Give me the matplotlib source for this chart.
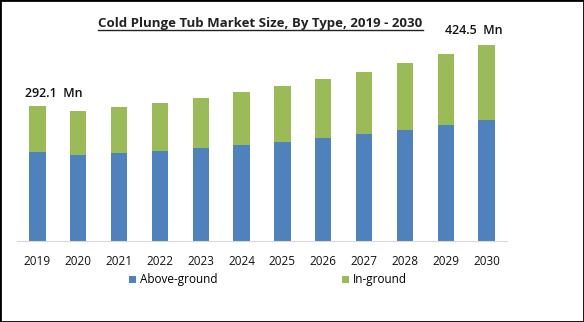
import numpy as np
import matplotlib.pyplot as plt
from matplotlib.lines import Line2D
from matplotlib.patches import Rectangle

years = ['2019', '2020', '2021', '2022', '2023', '2024', '2025', '2026', '2027', '2028', '2029', '2030']
above_ground = [192.6, 186.0, 190.4, 194.8, 201.0, 207.7, 214.0, 222.9, 231.5, 240.0, 251.0, 261.8]
in_ground = [99.5, 95.3, 99.6, 103.8, 108.4, 114.7, 121.4, 127.6, 134.2, 145.2, 153.6, 162.7]
first_label = '292.1  Mn'
last_label = '424.5  Mn'

plt.rcParams['font.family'] = ['Open Sans', 'DejaVu Sans']

fig = plt.figure(figsize=(5.84, 3.22), dpi=100)
ax = fig.add_axes([17 / 584, 81 / 322, 490 / 584, 208 / 322])

x = np.arange(len(years))
blue, green = '#4F81BD', '#9BBB59'
ax.bar(x, above_ground, width=0.4, color=blue, label='Above-ground')
ax.bar(x, in_ground, width=0.4, bottom=above_ground, color=green, label='In-ground')

ax.set_xlim(-0.5, 11.5)
ax.set_ylim(0, 450)
ax.set_yticks([])
ax.set_xticks(x)
ax.set_xticklabels(years, fontsize=8.5, color='#111111')
ax.tick_params(axis='x', length=0, pad=10)
for s in ['top', 'right', 'left']:
    ax.spines[s].set_visible(False)
ax.spines['bottom'].set_color('#D9D9D9')

totals = [a + b for a, b in zip(above_ground, in_ground)]
ax.text(-0.3, totals[0] + 27, first_label, fontsize=9, fontweight='semibold', va='center', ha='left', color='#111111')
ax.text(11.4, totals[-1] + 30, last_label, fontsize=9, fontweight='semibold', va='center', ha='right', color='#111111')

# titre souligné
title = fig.text(260.5 / 584, 1 - 24 / 322, 'Cold Plunge Tub Market Size, By Type, 2019 - 2030',
                 fontsize=9.5, fontweight='bold', ha='center', va='center', color='#222222')
fig.canvas.draw()
bb = title.get_window_extent().transformed(fig.transFigure.inverted())
fig.add_artist(Line2D([bb.x0, bb.x1], [bb.y0 + 0.003, bb.y0 + 0.003], color='#222222', lw=1))

fig.legend(loc='center', bbox_to_anchor=(268 / 584, 1 - 280 / 322), ncol=2, frameon=False,
           fontsize=8.5, handlelength=0.6, handleheight=0.6, handletextpad=0.3, columnspacing=10.6)

fig.add_artist(Rectangle((0, 0), 1, 1, transform=fig.transFigure, fill=False, ec='black', lw=2))

plt.savefig('out.png', dpi=100)
